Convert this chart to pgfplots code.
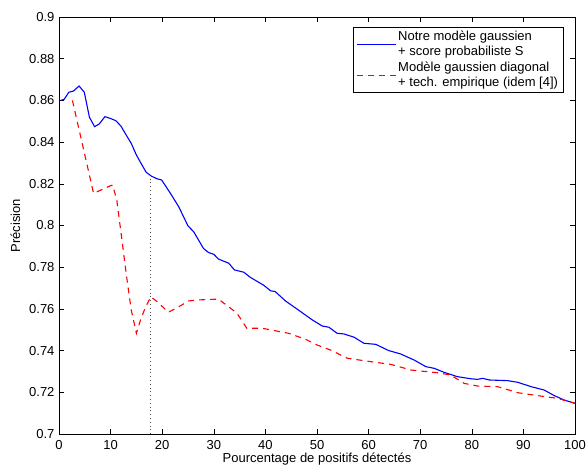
\documentclass[border=0pt]{standalone}
\usepackage{pgfplots}
\pgfplotsset{compat=1.18}
\usepackage{fontspec}
\setmainfont{Liberation Sans}

\begin{document}
\fontsize{13}{15}\selectfont
\begin{tikzpicture}
\begin{axis}[
    scale only axis,
    width=516pt, height=417pt,
    xmin=0, xmax=100, ymin=0.7, ymax=0.9,
    xtick={0,10,20,30,40,50,60,70,80,90,100},
    ytick={0.7,0.72,0.74,0.76,0.78,0.8,0.82,0.84,0.86,0.88,0.9},
    yticklabels={0.7,0.72,0.74,0.76,0.78,0.8,0.82,0.84,0.86,0.88,0.9},
    /pgf/number format/assume math mode=true,
    tick label style={font=\fontsize{13}{15}\selectfont},
    xticklabel style={yshift=-2pt},
    label style={font=\fontsize{13}{15}\selectfont},
    major tick length=5pt,
    tick style={black, line width=0.5pt},
    axis line style={line width=0.8pt},
    xlabel={Pourcentage de positifs détectés},
    ylabel={Précision},
    xlabel style={yshift=6pt},
    legend cell align=left,
    legend image code/.code={\draw[#1] (0pt,0pt) -- (39pt,0pt);},
    legend style={at={(1,1)}, anchor=north east, xshift=-12pt, yshift=-10pt,
        font=\fontsize{13}{15}\selectfont, draw=black,
        nodes={align=left, inner sep=1.8pt}, row sep=1pt},
]
    \addplot[blue, line width=1.1pt] coordinates {
        (0.3,0.86) (1,0.8605) (1.9,0.8639) (2.8,0.8645) (3.9,0.8669) (4.9,0.8639)
        (5.9,0.8519) (6.9,0.8474) (7.8,0.8487) (8.9,0.8522) (9.9,0.8514) (11,0.8503)
        (12,0.8477) (12.9,0.8439) (14,0.8394) (15,0.8338) (15.9,0.8298) (16.9,0.8255)
        (17.9,0.8237) (18.9,0.8225) (19.9,0.8218) (21.6,0.8154) (23.2,0.809) (25,0.7998)
        (26.1,0.797) (28,0.789) (29,0.787) (30,0.7862) (30.9,0.7839) (32.9,0.7819)
        (34,0.7787) (35.8,0.7776) (37.1,0.7751) (39.7,0.7713) (41,0.7687) (41.9,0.7683)
        (43.9,0.7638) (46.2,0.7598) (49.1,0.7547) (51,0.7518) (52.3,0.7512) (53.9,0.7483)
        (55.2,0.748) (57.2,0.7464) (59.1,0.7435) (61.4,0.743) (63.9,0.740) (66.2,0.7384)
        (68.8,0.7355) (71.1,0.7323) (72.7,0.7315) (74.6,0.7296) (77.2,0.7275) (79.8,0.7265)
        (81.1,0.7262) (82.1,0.7267) (83.4,0.7259) (86.9,0.7256) (88.9,0.7248) (91.5,0.7227)
        (94,0.7211) (96,0.7184) (97.9,0.7163) (100,0.7147)
    };
    \addlegendentry{Notre modèle gaussien\\+ score probabiliste S}
    \addplot[red, line width=1.1pt, dash pattern=on 6pt off 5pt] coordinates {
        (2.6,0.86) (6.7,0.8154) (9.9,0.819) (10.4,0.8194) (11.2,0.8122) (12.2,0.793)
        (13.1,0.7755) (14,0.7595) (15,0.7483) (15.9,0.7555) (16.8,0.761) (17.8,0.7658)
        (19,0.7635) (21.2,0.7584) (23.2,0.761) (25.1,0.7638) (27,0.7643) (30.9,0.7647)
        (32.9,0.761) (34.5,0.7579) (36.4,0.7507) (39.4,0.7507) (44.5,0.7483) (47.8,0.7454)
        (50,0.7427) (52.6,0.7403) (55.9,0.7363) (60.4,0.7347) (64.3,0.7334) (68.2,0.7307)
        (73.3,0.7294) (75.9,0.7283) (78.5,0.7243) (81.1,0.723) (85,0.7227) (88.9,0.7198)
        (92.8,0.7184) (96.6,0.7171) (100,0.7147)
    };
    \addlegendentry{Modèle gaussien diagonal\\+ tech. empirique (idem [4])}
    % seuil
    \addplot[black!70, line width=0.8pt, dash pattern=on 0.8pt off 3pt, forget plot]
        coordinates {(17.8,0.7) (17.8,0.8237)};
\end{axis}
\pgfresetboundingbox
\path ([shift={(-59pt,-34pt)}]current axis.south west) rectangle ([shift={(11pt,17pt)}]current axis.north east);
\end{tikzpicture}
\end{document}
